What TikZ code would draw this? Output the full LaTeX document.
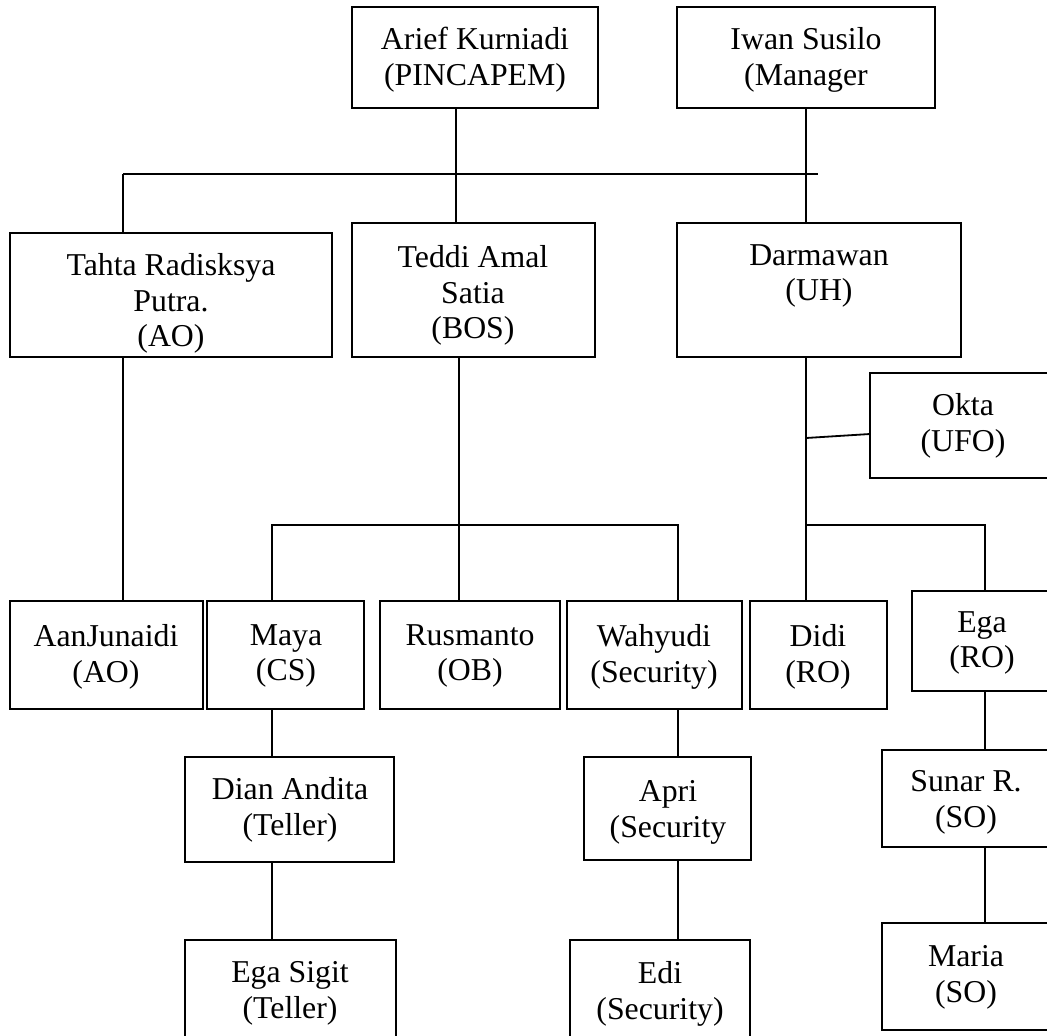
\documentclass[tikz,border=0pt]{standalone}
\usepackage{fontspec}
\setmainfont{Liberation Serif}
\tikzset{
  orgrect/.style={draw=black, line width=2.2pt, inner sep=0pt, outer sep=0pt, fill=white},
  orglbl/.style={anchor=north, align=center, inner sep=0pt, outer sep=0pt,
                 font=\fontsize{31.8}{35.5}\selectfont},
  conn/.style={draw=black, line width=1.8pt}
}
% name, x1, y1, x2, y2, text x, first-line centre y, text
\newcommand\orgbox[8]{%
  \node[orgrect, minimum width={(#4)-(#2)}, minimum height={(#5)-(#3)}, anchor=north west] (#1) at (#2,#3) {};
  \node[orglbl] (#1-t) at (#6,{#7-11.5}) {#8};}
\begin{document}
\begin{tikzpicture}[x=1pt,y=-1pt]
\useasboundingbox (0,0) rectangle (1047,1036);
\fill[white] (0,0) rectangle (1047,1036);
\clip (0,0) rectangle (1047,1036);

% ---- boxes ----
\orgbox{arief}{352}{7}{598}{108}{475}{39}{Arief Kurniadi\\(PINCAPEM)}
\orgbox{iwan}{677}{7}{935}{108}{806}{39}{Iwan Susilo\\(Manager}
\orgbox{tahta}{10}{233}{332}{357}{171}{265}{Tahta Radisksya\\Putra.\\(AO)}
\orgbox{teddi}{352}{223}{595}{357}{473}{257}{Teddi Amal\\Satia\\(BOS)}
\orgbox{darm}{677}{223}{961}{357}{819}{256}{Darmawan\\(UH)}
\orgbox{okta}{870}{373}{1056}{478}{963}{405}{Okta\\(UFO)}
\orgbox{aan}{10}{601}{203}{709}{106}{636}{AanJunaidi\\(AO)}
\orgbox{maya}{207}{601}{364}{709}{286}{636}{Maya\\(CS)}
\orgbox{rus}{380}{601}{560}{709}{470}{636}{Rusmanto\\(OB)}
\orgbox{wah}{567}{601}{742}{709}{654}{636}{Wahyudi\\(Security)}
\orgbox{didi}{750}{601}{887}{709}{818}{636}{Didi\\(RO)}
\orgbox{ega}{912}{591}{1052}{691}{982}{623}{Ega\\(RO)}
\orgbox{dian}{185}{757}{394}{862}{290}{789}{Dian Andita\\(Teller)}
\orgbox{apri}{584}{757}{751}{860}{668}{792}{Apri\\(Security}
\orgbox{sunar}{882}{750}{1052}{847}{966}{782}{Sunar R.\\(SO)}
\orgbox{egasig}{185}{940}{396}{1050}{290}{973}{Ega Sigit\\(Teller)}
\orgbox{edi}{570}{940}{750}{1050}{660}{973}{Edi\\(Security)}
\orgbox{maria}{882}{923}{1052}{1030}{966}{957}{Maria\\(SO)}

% ---- junction coordinates ----
\coordinate (busL) at (123,174);
\coordinate (busR) at (818,174);
\coordinate (xa) at (456,0);
\coordinate (xi) at (806,0);
\coordinate (xt) at (123,0);
\coordinate (xb) at (459,0);
\coordinate (b2L) at (272,525);
\coordinate (b2R) at (678,525);
\coordinate (b3L) at (806,525);
\coordinate (b3R) at (985,525);
\coordinate (okj) at (806,438);

% ---- connectors ----
\draw[conn] (busL) -- (busR);
\draw[conn] (busL) -- (busL |- tahta.north);
\draw[conn] (xa |- arief.south) -- (xa |- teddi.north);
\draw[conn] (xi |- iwan.south) -- (xi |- darm.north);
\draw[conn] (xt |- tahta.south) -- (xt |- aan.north);
\draw[conn] (xb |- teddi.south) -- (xb |- rus.north);
\draw[conn] (b2L |- maya.north) -- (b2L) -- (b2R) -- (b2R |- wah.north);
\draw[conn] (xi |- darm.south) -- (xi |- didi.north);
\draw[conn] (okj) -- ([yshift=-8.5pt]okta.west);
\draw[conn] (b3L) -- (b3R) -- (b3R |- ega.north);
\draw[conn] (b2L |- maya.south) -- (b2L |- dian.north);
\draw[conn] (b2L |- dian.south) -- (b2L |- egasig.north);
\draw[conn] (b2R |- wah.south) -- (b2R |- apri.north);
\draw[conn] (b2R |- apri.south) -- (b2R |- edi.north);
\draw[conn] (b3R |- ega.south) -- (b3R |- sunar.north);
\draw[conn] (b3R |- sunar.south) -- (b3R |- maria.north);
\end{tikzpicture}
\end{document}
